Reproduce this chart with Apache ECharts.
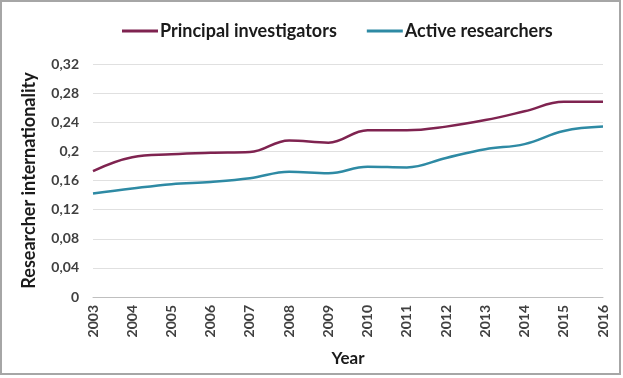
<!DOCTYPE html>
<html><head><meta charset="utf-8">
<script src="https://cdn.jsdelivr.net/npm/echarts@6/dist/echarts.min.js"></script>
<style>html,body{margin:0;padding:0;background:#fff}#c{width:623px;height:378px}</style>
</head><body><div id="c"></div>
<script>
const years = ['2003','2004','2005','2006','2007','2008','2009','2010','2011','2012','2013','2014','2015','2016'];
const principalInvestigators = [0.173,0.192,0.196,0.198,0.199,0.215,0.212,0.229,0.229,0.234,0.243,0.255,0.268,0.268];
const activeResearchers = [0.142,0.149,0.155,0.158,0.163,0.172,0.170,0.179,0.178,0.191,0.203,0.210,0.228,0.234];
const yTicks = [0,0.04,0.08,0.12,0.16,0.2,0.24,0.28,0.32];

const chart = echarts.init(document.getElementById('c'), null, {renderer:'canvas'});
const F = 'Lato, "Open Sans", sans-serif';
chart.setOption({
  animation:false,
  graphic:[{type:'rect',shape:{x:1,y:1,width:619,height:373},style:{fill:'none',stroke:'#a6a6a6',lineWidth:2},z:-1}],
  legend:{
    top:17,left:117,itemGap:30,itemWidth:36,itemHeight:3,icon:'rect',
    textStyle:{fontFamily:F,fontSize:18,fontWeight:'bold',color:'#1a1a1a',padding:[0,0,0,-3]},
    data:['Principal investigators','Active researchers']
  },
  grid:{left:93,right:20,top:64,bottom:81,containLabel:false},
  xAxis:{
    type:'category',data:years,boundaryGap:false,
    name:'Year',nameLocation:'middle',nameGap:53,
    nameTextStyle:{fontFamily:F,fontSize:17,fontWeight:'bold',color:'#1a1a1a'},
    axisLine:{lineStyle:{color:'#bfbfbf',width:1}},
    axisTick:{show:false},
    axisLabel:{rotate:90,fontFamily:F,fontSize:14,fontWeight:'bold',color:'#404040',margin:8}
  },
  yAxis:{
    type:'value',min:0,max:0.32,interval:0.04,
    name:'Researcher internationality',nameLocation:'middle',nameGap:55,
    nameTextStyle:{fontFamily:F,fontSize:18,fontWeight:'bold',color:'#1a1a1a'},
    axisLine:{show:false},axisTick:{show:false},
    splitLine:{lineStyle:{color:'#e0e0e0',width:1}},
    axisLabel:{fontFamily:F,fontSize:14,fontWeight:'bold',color:'#404040',margin:14,
      formatter:v=>{const t=yTicks.find(x=>Math.abs(x-v)<1e-9);return String(t!==undefined?t:v).replace('.',',');}}
  },
  series:[
    {name:'Principal investigators',type:'line',data:principalInvestigators,smooth:0.4,showSymbol:false,
     lineStyle:{color:'#7f2350',width:2.5},itemStyle:{color:'#7f2350'}},
    {name:'Active researchers',type:'line',data:activeResearchers,smooth:0.4,showSymbol:false,
     lineStyle:{color:'#2e8aa4',width:2.5},itemStyle:{color:'#2e8aa4'}}
  ]
});
</script></body></html>
